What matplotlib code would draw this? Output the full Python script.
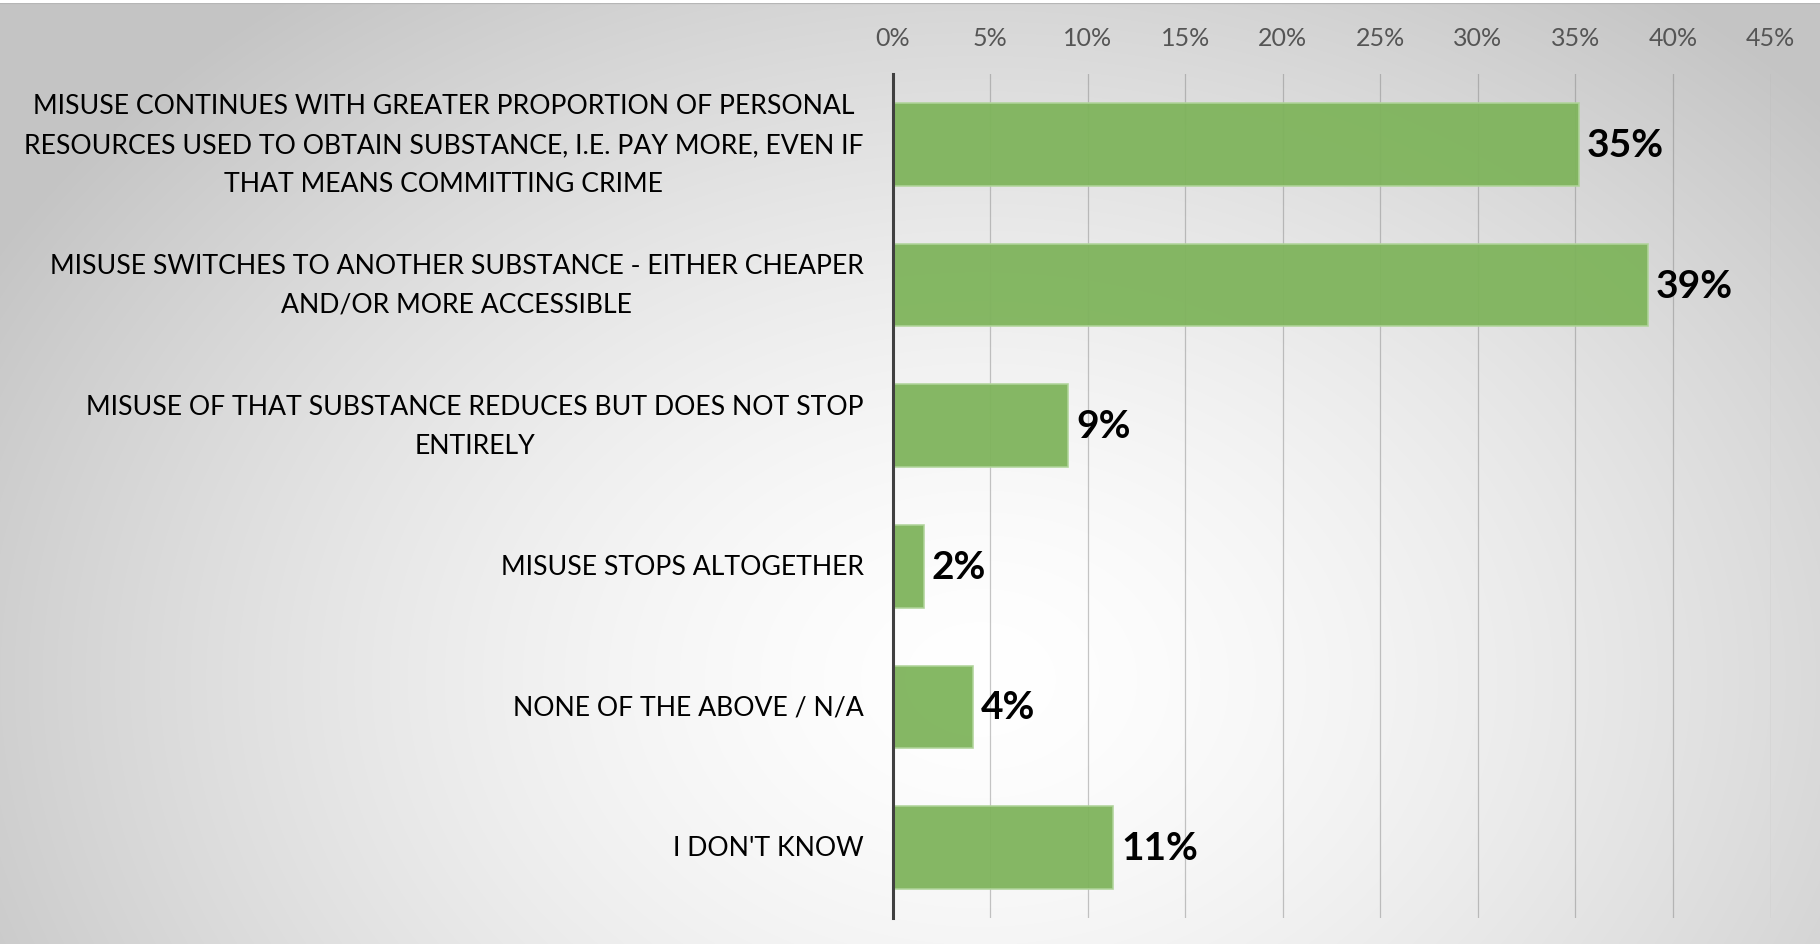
import matplotlib.pyplot as plt
from matplotlib.lines import Line2D
import numpy as np

categories = [
    "MISUSE CONTINUES WITH GREATER PROPORTION OF PERSONAL\nRESOURCES USED TO OBTAIN SUBSTANCE, I.E. PAY MORE, EVEN IF\nTHAT MEANS COMMITTING CRIME",
    "MISUSE SWITCHES TO ANOTHER SUBSTANCE - EITHER CHEAPER\nAND/OR MORE ACCESSIBLE",
    "MISUSE OF THAT SUBSTANCE REDUCES BUT DOES NOT STOP\nENTIRELY",
    "MISUSE STOPS ALTOGETHER",
    "NONE OF THE ABOVE / N/A",
    "I DON'T KNOW",
]
values = [35.2, 38.7, 9.0, 1.6, 4.1, 11.3]
xticks = [0, 5, 10, 15, 20, 25, 30, 35, 40, 45]

W, H = 1820, 945
fig = plt.figure(figsize=(W / 100, H / 100), dpi=100)

# soft radial backdrop, white in the middle, grey towards the edges
bg = fig.add_axes([0, 0, 1, 1], zorder=-10)
yy, xx = np.mgrid[0:H, 0:W]
r = np.sqrt(((xx - 980) / 1000.0) ** 2 + ((yy - 680) / 760.0) ** 2)
shade = np.clip(1.0 - 0.19 * r ** 1.5, 0.77, 1.0)
bg.imshow(np.dstack([shade] * 3), extent=[0, 1, 0, 1], aspect="auto", origin="upper")
bg.axis("off")
fig.add_artist(Line2D([0, 1], [1 - 4 / H] * 2, color="#b4b4b4", lw=1.6))
fig.add_artist(Line2D([0, 1], [1 - 1.5 / H] * 2, color="white", lw=2.2))

ax = fig.add_axes([892.7 / W, 26 / H, (1770.5 - 892.7) / W, (919 - 75) / H])
ax.set_facecolor("none")

y = np.arange(len(categories))
ax.barh(y, values, height=0.59, color="#7fb45c", alpha=0.95,
        edgecolor="#b0d49a", linewidth=1.2, zorder=3)

for yi, v in zip(y, values):
    ax.text(v + 0.4, yi, f"{v:.0f}%", va="center", ha="left",
            fontsize=28, fontweight="bold", family="Lato", color="black", zorder=4)

ax.set_xlim(0, 45)
ax.set_ylim(len(categories) - 0.5, -0.5)
ax.set_xticks(xticks)
ax.set_xticklabels([f"{t}%" for t in xticks], family="Lato", fontsize=18, color="#555555")
ax.xaxis.tick_top()
ax.tick_params(axis="x", length=0, pad=18)
ax.set_yticks(y)
ax.set_yticklabels(categories, family="Lato", fontsize=19.2, color="black",
                   multialignment="center", linespacing=1.7)
for lbl in ax.get_yticklabels():
    lbl.set_verticalalignment("center")
ax.tick_params(axis="y", length=0, pad=21)

ax.grid(axis="x", color="#808080", alpha=0.45, linewidth=0.9, zorder=0)
for side in ["top", "right", "bottom"]:
    ax.spines[side].set_visible(False)
ax.spines["left"].set_color("#404040")
ax.spines["left"].set_linewidth(2.2)
ax.spines["left"].set_zorder(5)

fig.savefig("out.png", dpi=100)
